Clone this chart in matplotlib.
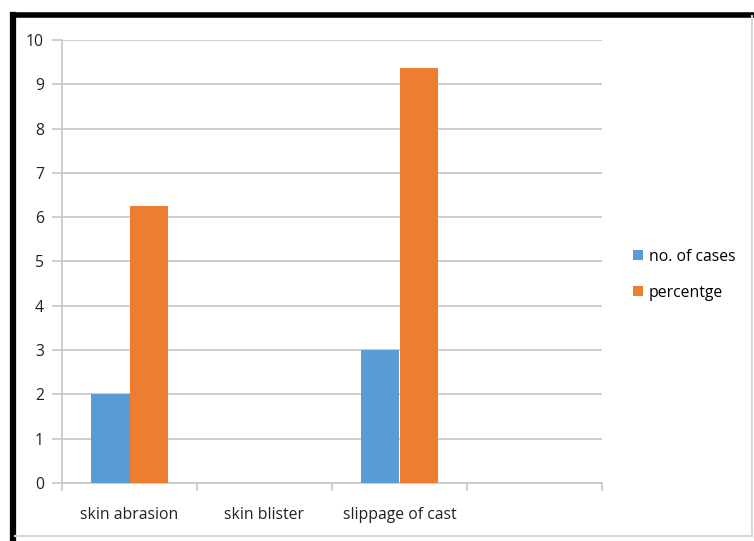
import numpy as np
import matplotlib.pyplot as plt
from matplotlib.lines import Line2D

plt.rcParams['font.family'] = ['Open Sans', 'DejaVu Sans']

# dados do gráfico
categorias = ['skin abrasion', 'skin blister', 'slippage of cast', '']
casos = [2, 0, 3, 0]
percentual = [6.25, 0, 9.375, 0]
legendas = ['no. of cases', 'percentge']
cores = ['#5B9BD5', '#ED7D31']

fig = plt.figure(figsize=(7.54, 5.41), dpi=100)
ax = fig.add_axes([62 / 754, 58 / 541, 540 / 754, 443 / 541])

x = np.arange(len(categorias))
largura = 0.285
cinza = '#c6c6c6'

b1 = ax.bar(x - largura / 2, casos, largura, color=cores[0], zorder=3)
b2 = ax.bar(x + largura / 2, percentual, largura, color=cores[1], zorder=3)

ax.set_xlim(-0.5, len(categorias) - 0.5)
ax.set_ylim(0, 10)
ax.set_yticks(range(0, 11))
ax.yaxis.grid(True, color=cinza, linewidth=1.2, zorder=0)

# marcas do eixo x nas divisas entre categorias
ax.set_xticks(np.arange(-0.5, len(categorias), 1.0))
ax.set_xticklabels([])
ax.set_xticks(x, minor=True)
ax.set_xticklabels(categorias, minor=True)
ax.tick_params(axis='x', which='major', length=6, width=1.2, color=cinza)
ax.tick_params(axis='x', which='minor', length=0, pad=17, labelsize=11.3,
               labelcolor='#222222')
ax.tick_params(axis='y', length=7, width=1.2, color=cinza, pad=6,
               labelsize=11.3, labelcolor='#222222')

for lado in ['top', 'right']:
    ax.spines[lado].set_visible(False)
for lado in ['left', 'bottom']:
    ax.spines[lado].set_color(cinza)
    ax.spines[lado].set_linewidth(1.2)

ax.legend([b1, b2], legendas, loc='center left', bbox_to_anchor=(1.032, 0.47),
          frameon=False, fontsize=11.3, handlelength=0.6, handleheight=0.6,
          handletextpad=0.4, labelspacing=1.25)

# moldura em volta da figura
fig.add_artist(Line2D([13 / 754, 1.0], [1 - 14.5 / 541] * 2, color='black',
                      linewidth=4, transform=fig.transFigure))
fig.add_artist(Line2D([13 / 754] * 2, [0, 1 - 14.5 / 541], color='black',
                      linewidth=4.5, transform=fig.transFigure))
fig.add_artist(Line2D([752 / 754] * 2, [5 / 541, 1 - 16 / 541], color='#d8d8d8',
                      linewidth=1.5, transform=fig.transFigure))
fig.add_artist(Line2D([15 / 754, 752 / 754], [5 / 541] * 2, color='#d8d8d8',
                      linewidth=1.5, transform=fig.transFigure))

fig.savefig('out.png', dpi=100)
